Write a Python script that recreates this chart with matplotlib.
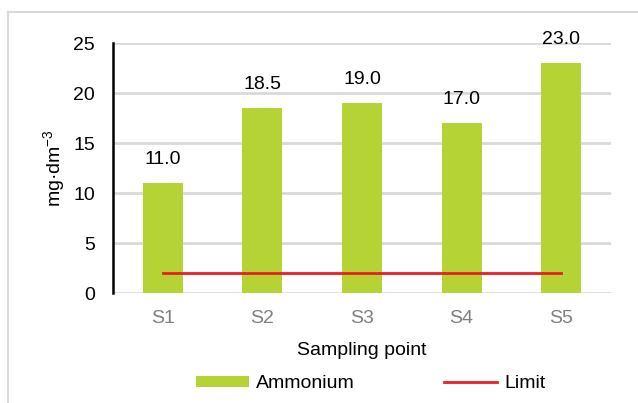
import matplotlib.pyplot as plt
from matplotlib.lines import Line2D

plt.rcParams['font.family'] = ['Liberation Sans', 'DejaVu Sans']

points = ["S1", "S2", "S3", "S4", "S5"]
ammonium = [11.0, 18.5, 19.0, 17.0, 23.0]
limit = [2, 2, 2, 2, 2]

fig = plt.figure(figsize=(6.38, 4.03), dpi=100)
ax = fig.add_axes([113 / 638, 1 - 293 / 403, 498 / 638, 250 / 403])

x = range(len(points))
bars = ax.bar(x, ammonium, width=0.4, color="#b5d334", label="Ammonium", zorder=2)
line, = ax.plot(x, limit, color="#ee1c25", lw=2, label="Limit", zorder=3)

for i, v in enumerate(ammonium):
    ax.annotate(f"{v:.1f}", (i, v), xytext=(0, 11), textcoords="offset points",
                ha="center", va="bottom", fontsize=14)

ax.set_xlim(-0.5, 4.5)
ax.set_ylim(0, 25)
ax.set_yticks([0, 5, 10, 15, 20, 25])
ax.set_xticks(list(x))
ax.set_xticklabels(points)
ax.grid(axis="y", color="#d9d9d9", lw=2, zorder=0)
ax.set_axisbelow(True)
for s in ["top", "right", "bottom"]:
    ax.spines[s].set_visible(False)
ax.spines["left"].set_linewidth(1.8)
ax.spines["left"].set_color("black")
ax.tick_params(axis="x", length=0, labelsize=14, labelcolor="#7f7f7f", pad=12)
ax.tick_params(axis="y", length=0, labelsize=14, pad=13)

ax.set_ylabel("mg·dm$^{\\mathregular{-3}}$", fontsize=14, labelpad=4)
ax.set_xlabel("Sampling point", fontsize=14, labelpad=11)

fig.legend([bars, line], ["Ammonium", "Limit"], loc="center",
           bbox_to_anchor=(371 / 638, 1 - 384 / 403), ncol=2, frameon=False,
           fontsize=14, handlelength=2.7, handleheight=0.55, handletextpad=0.4,
           columnspacing=4.6, borderpad=0)

fig.add_artist(Line2D([8 / 638, 1], [1 - 12 / 403, 1 - 12 / 403], color="#d9d9d9", lw=1.5))
fig.add_artist(Line2D([8 / 638, 8 / 638], [0, 1 - 12 / 403], color="#d9d9d9", lw=1.5))

fig.savefig("out.png", dpi=100)
